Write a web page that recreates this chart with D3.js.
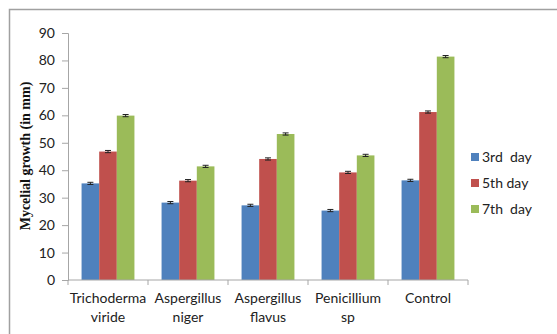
<!DOCTYPE html>
<html>
<head>
<meta charset="utf-8">
<script src="https://cdn.jsdelivr.net/npm/d3@7"></script>
<style>
  body { margin: 0; background: #fff; }
  svg { display: block; }
</style>
</head>
<body>
<script>
// values
const categories = [["Trichoderma", "viride"], ["Aspergillus", "niger"], ["Aspergillus", "flavus"], ["Penicillium", "sp"], ["Control"]];
const seriesNames = ["3rd  day", "5th day", "7th  day"];
const day3 = [35.2, 28.2, 27.2, 25.3, 36.3];
const day5 = [46.8, 36.2, 44.1, 39.2, 61.2];
const day7 = [59.9, 41.4, 53.2, 45.4, 81.4];
const errors = [0.4, 0.4, 0.4, 0.4, 0.4];
const yTicks = [0, 10, 20, 30, 40, 50, 60, 70, 80, 90];
const colors = ["#4F81BD", "#C0504D", "#9BBB59"];

const width = 557, height = 334;
const margin = { left: 68, right: 89, top: 33, bottom: 54 };

const svg = d3.select("body").append("svg")
    .attr("width", width)
    .attr("height", height);

// frame (only top and left edges visible)
svg.append("path")
    .attr("d", "M9.5," + height + "V9.5H" + width)
    .attr("fill", "none")
    .attr("stroke", "#a0a0a0")
    .attr("stroke-width", 1.5);

const x = d3.scaleBand()
    .domain(d3.range(categories.length))
    .range([margin.left, width - margin.right]);

const x1 = d3.scaleBand()
    .domain(d3.range(seriesNames.length))
    .range([0, x.bandwidth()])
    .paddingOuter(0.77)
    .paddingInner(0);

const y = d3.scaleLinear()
    .domain([0, 90])
    .range([height - margin.bottom, margin.top]);

const series = [day3, day5, day7];

// y axis
const yAxis = svg.append("g")
    .attr("transform", "translate(" + margin.left + ",0)")
    .call(d3.axisLeft(y).tickValues(yTicks).tickSize(6).tickPadding(7).tickFormat(d3.format("d")));
yAxis.selectAll("path, line").attr("stroke", "#a6a6a6");
yAxis.selectAll("text")
    .attr("font-family", "Lato, 'Open Sans', sans-serif")
    .attr("font-size", 14)
    .attr("fill", "#222");

// bars
const groups = svg.append("g").selectAll("g")
    .data(series)
    .join("g")
    .attr("fill", (d, i) => colors[i]);

groups.selectAll("rect")
    .data((d, si) => d.map((v, ci) => ({ v, ci, si })))
    .join("rect")
    .attr("x", d => x(d.ci) + x1(d.si))
    .attr("width", x1.bandwidth())
    .attr("y", d => y(d.v))
    .attr("height", d => y(0) - y(d.v));

// error bars
const err = svg.append("g")
    .attr("stroke", "#222")
    .attr("stroke-width", 1);
series.forEach((s, si) => {
    s.forEach((v, ci) => {
        const cx = x(ci) + x1(si) + x1.bandwidth() / 2;
        err.append("line")
            .attr("x1", cx).attr("x2", cx)
            .attr("y1", y(v - errors[ci])).attr("y2", y(v + errors[ci]));
        [v - errors[ci], v + errors[ci]].forEach(e => {
            err.append("line")
                .attr("x1", cx - 3).attr("x2", cx + 3)
                .attr("y1", y(e)).attr("y2", y(e));
        });
    });
});

// x axis
const xAxisG = svg.append("g")
    .attr("transform", "translate(0," + y(0) + ")");
xAxisG.append("line")
    .attr("x1", margin.left).attr("x2", width - margin.right)
    .attr("stroke", "#a6a6a6");
xAxisG.selectAll(".tick")
    .data(d3.range(categories.length + 1))
    .join("line")
    .attr("x1", i => i < categories.length ? x(i) : x(i - 1) + x.bandwidth())
    .attr("x2", i => i < categories.length ? x(i) : x(i - 1) + x.bandwidth())
    .attr("y1", 0).attr("y2", 5)
    .attr("stroke", "#a6a6a6");

const xLabels = xAxisG.selectAll("text")
    .data(categories)
    .join("text")
    .attr("font-family", "Lato, 'Open Sans', sans-serif")
    .attr("font-size", 14)
    .attr("fill", "#222")
    .attr("text-anchor", "middle");
xLabels.selectAll("tspan")
    .data(d => d)
    .join("tspan")
    .attr("x", function() { return x(categories.indexOf(d3.select(this.parentNode).datum())) + x.bandwidth() / 2; })
    .attr("y", (d, i) => 23 + i * 19)
    .text(d => d);

// y title
svg.append("text")
    .attr("transform", "translate(30," + 156 + ") rotate(-90)")
    .attr("text-anchor", "middle")
    .attr("font-family", "'Liberation Serif', 'Times New Roman', serif")
    .attr("font-weight", "bold")
    .attr("font-size", 14)
    .attr("fill", "#111")
    .text("Mycelial growth (in mm)");

// legend
const legend = svg.append("g")
    .attr("transform", "translate(471,157)");
const items = legend.selectAll("g")
    .data(seriesNames)
    .join("g")
    .attr("transform", (d, i) => "translate(0," + i * 26 + ")");
items.append("rect")
    .attr("x", 0).attr("y", -4)
    .attr("width", 8).attr("height", 8)
    .attr("fill", (d, i) => colors[i]);
items.append("text")
    .attr("x", 11)
    .attr("y", 5)
    .attr("font-family", "Lato, 'Open Sans', sans-serif")
    .attr("font-size", 14)
    .attr("fill", "#222")
    .attr("xml:space", "preserve")
    .style("white-space", "pre")
    .text(d => d);
</script>
</body>
</html>
